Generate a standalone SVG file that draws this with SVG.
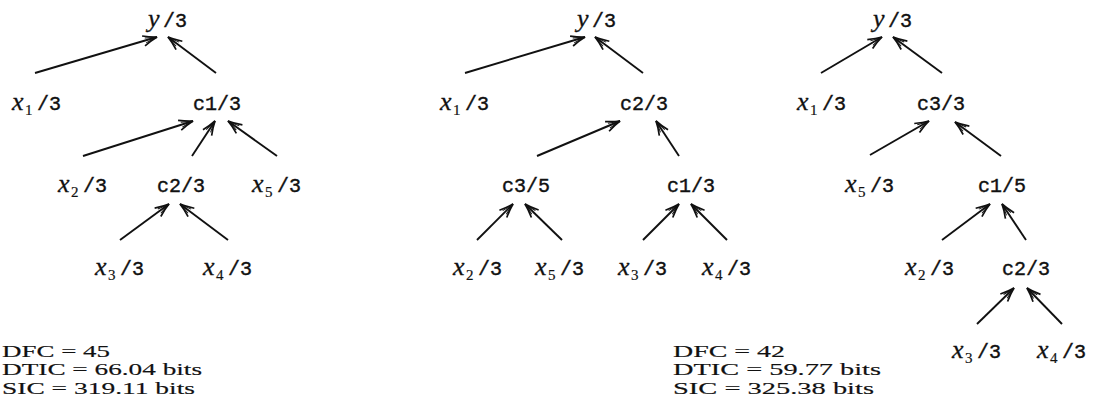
<svg xmlns="http://www.w3.org/2000/svg" width="1095" height="412" viewBox="0 0 1095 412">
  <style>
    .m { font-family: "Liberation Mono", "DejaVu Sans Mono", monospace; font-size: 20px; fill: #111; stroke: #111; stroke-width: 0.4; }
    .i { font-family: "Liberation Serif", serif; font-style: italic; font-size: 26px; fill: #111; stroke: #111; stroke-width: 0.3; }
    .s { font-family: "Liberation Serif", serif; font-size: 15px; fill: #111; stroke: #111; stroke-width: 0.2; }
    .st { font-family: "Liberation Serif", serif; font-size: 16.5px; fill: #111; stroke: #111; stroke-width: 0.15; }
    .edge { stroke: #111; stroke-width: 1.9; fill: none; marker-end: url(#ah); }
  </style>
  <defs>
    <!-- open arrowhead with slightly curved, doubled barbs -->
    <marker id="ah" viewBox="-16 -8 18 16" refX="0" refY="0" markerWidth="18" markerHeight="16" markerUnits="userSpaceOnUse" orient="auto">
      <path d="M-14,-5.2 Q-6,-1.5 0,0 Q-6,1.5 -14,5.2" fill="none" stroke="#111" stroke-width="1.7"/>
      <path d="M-12,-2.6 L-1.5,0 L-12,2.6" fill="none" stroke="#111" stroke-width="1"/>
    </marker>
  </defs>
  <rect width="1095" height="412" fill="#fff"/>

  <!-- Tree 1 -->
  <g id="t1-y"><text class="i" x="148" y="27">y</text><text class="m" x="163" y="27">/3</text></g>
  <g id="t1-x1"><text class="i" x="12" y="110">x</text><text class="s" x="25" y="115">1</text><text class="m" x="37" y="110">/3</text></g>
  <g id="t1-c1"><text class="m" x="193" y="110">c1/3</text></g>
  <g id="t1-x2"><text class="i" x="58" y="192">x</text><text class="s" x="71" y="197">2</text><text class="m" x="83" y="192">/3</text></g>
  <g id="t1-c2"><text class="m" x="157" y="192">c2/3</text></g>
  <g id="t1-x5"><text class="i" x="252" y="192">x</text><text class="s" x="265" y="197">5</text><text class="m" x="277" y="192">/3</text></g>
  <g id="t1-x3"><text class="i" x="95" y="275">x</text><text class="s" x="108" y="280">3</text><text class="m" x="120" y="275">/3</text></g>
  <g id="t1-x4"><text class="i" x="203" y="275">x</text><text class="s" x="216" y="280">4</text><text class="m" x="228" y="275">/3</text></g>
  <g id="t1-stats">
    <text class="st" x="2" y="357" textLength="108" lengthAdjust="spacingAndGlyphs">DFC = 45</text>
    <text class="st" x="2" y="375.3" textLength="200" lengthAdjust="spacingAndGlyphs">DTIC = 66.04 bits</text>
    <text class="st" x="2" y="393.6" textLength="193" lengthAdjust="spacingAndGlyphs">SIC = 319.11 bits</text>
  </g>

  <!-- Tree 2 -->
  <g id="t2-y"><text class="i" x="577" y="27">y</text><text class="m" x="592" y="27">/3</text></g>
  <g id="t2-x1"><text class="i" x="440" y="110">x</text><text class="s" x="453" y="115">1</text><text class="m" x="465" y="110">/3</text></g>
  <g id="t2-c2"><text class="m" x="620" y="110">c2/3</text></g>
  <g id="t2-c3"><text class="m" x="502" y="192">c3/5</text></g>
  <g id="t2-c1"><text class="m" x="667" y="192">c1/3</text></g>
  <g id="t2-x2"><text class="i" x="453" y="275">x</text><text class="s" x="466" y="280">2</text><text class="m" x="478" y="275">/3</text></g>
  <g id="t2-x5"><text class="i" x="535" y="275">x</text><text class="s" x="548" y="280">5</text><text class="m" x="560" y="275">/3</text></g>
  <g id="t2-x3"><text class="i" x="618" y="275">x</text><text class="s" x="631" y="280">3</text><text class="m" x="643" y="275">/3</text></g>
  <g id="t2-x4"><text class="i" x="702" y="275">x</text><text class="s" x="715" y="280">4</text><text class="m" x="727" y="275">/3</text></g>
  <g id="t2-stats">
    <text class="st" x="673" y="357" textLength="112" lengthAdjust="spacingAndGlyphs">DFC = 42</text>
    <text class="st" x="673" y="375.3" textLength="208" lengthAdjust="spacingAndGlyphs">DTIC = 59.77 bits</text>
    <text class="st" x="673" y="393.6" textLength="201" lengthAdjust="spacingAndGlyphs">SIC = 325.38 bits</text>
  </g>

  <!-- Tree 3 -->
  <g id="t3-y"><text class="i" x="873" y="27">y</text><text class="m" x="888" y="27">/3</text></g>
  <g id="t3-x1"><text class="i" x="797" y="110">x</text><text class="s" x="810" y="115">1</text><text class="m" x="822" y="110">/3</text></g>
  <g id="t3-c3"><text class="m" x="917" y="110">c3/3</text></g>
  <g id="t3-x5"><text class="i" x="845" y="192">x</text><text class="s" x="858" y="197">5</text><text class="m" x="870" y="192">/3</text></g>
  <g id="t3-c1"><text class="m" x="978" y="192">c1/5</text></g>
  <g id="t3-x2"><text class="i" x="905" y="275">x</text><text class="s" x="918" y="280">2</text><text class="m" x="930" y="275">/3</text></g>
  <g id="t3-c2"><text class="m" x="1002" y="275">c2/3</text></g>
  <g id="t3-x3"><text class="i" x="952" y="358">x</text><text class="s" x="965" y="363">3</text><text class="m" x="977" y="358">/3</text></g>
  <g id="t3-x4"><text class="i" x="1037" y="358">x</text><text class="s" x="1050" y="363">4</text><text class="m" x="1062" y="358">/3</text></g>

  <!-- Connectors: child to parent -->
  <g id="connectors">
    <line class="edge" x1="35" y1="73" x2="157" y2="37"/>
    <line class="edge" x1="216" y1="73" x2="168" y2="37"/>
    <line class="edge" x1="83" y1="156" x2="193" y2="121"/>
    <line class="edge" x1="192" y1="156" x2="215" y2="121"/>
    <line class="edge" x1="277" y1="156" x2="228" y2="121"/>
    <line class="edge" x1="120" y1="240" x2="169" y2="204"/>
    <line class="edge" x1="228" y1="240" x2="180" y2="204"/>

    <line class="edge" x1="465" y1="73" x2="585" y2="37"/>
    <line class="edge" x1="643" y1="73" x2="595" y2="37"/>
    <line class="edge" x1="537" y1="156" x2="620" y2="121"/>
    <line class="edge" x1="679" y1="156" x2="656" y2="121"/>
    <line class="edge" x1="477" y1="240" x2="513" y2="204"/>
    <line class="edge" x1="562" y1="240" x2="525" y2="204"/>
    <line class="edge" x1="643" y1="240" x2="679" y2="204"/>
    <line class="edge" x1="727" y1="240" x2="691" y2="204"/>

    <line class="edge" x1="821" y1="73" x2="882" y2="37"/>
    <line class="edge" x1="942" y1="73" x2="893" y2="37"/>
    <line class="edge" x1="870" y1="155" x2="929" y2="121"/>
    <line class="edge" x1="1001" y1="156" x2="955" y2="122"/>
    <line class="edge" x1="942" y1="240" x2="990" y2="204"/>
    <line class="edge" x1="1026" y1="240" x2="1002" y2="204"/>
    <line class="edge" x1="977" y1="324" x2="1014" y2="288"/>
    <line class="edge" x1="1062" y1="324" x2="1027" y2="288"/>
  </g>
</svg>
